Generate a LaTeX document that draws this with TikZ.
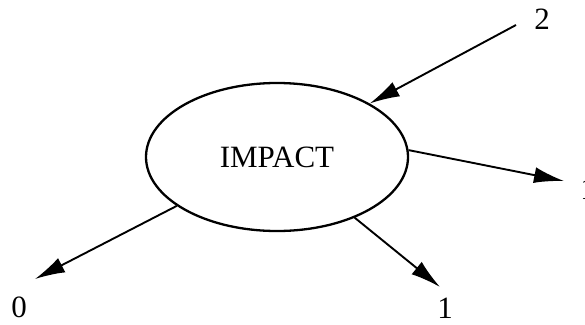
\documentclass[tikz,border=0pt]{standalone}
\usepackage{fontspec}
\setmainfont{Liberation Serif}
\usetikzlibrary{shapes.geometric,arrows.meta}
\begin{document}
\begin{tikzpicture}[x=1pt,y=-1pt,
  bubble/.style={ellipse,draw,line width=2.3pt,minimum width=262pt,minimum height=148pt,inner sep=0pt,font=\fontsize{31}{31}\selectfont},
  lbl/.style={inner sep=0pt,font=\fontsize{31}{31}\selectfont},
  link/.style={line width=1.9pt,-{Latex[length=30pt,width=16pt]}}]
\useasboundingbox (0,0) rectangle (585,324);
\node[bubble] (imp) at (277,157) {IMPACT};
\node[lbl] (n0) at (19,307) {0};
\node[lbl] (n1a) at (445,308) {1};
\node[lbl] (n2) at (542,19) {2};
\node[lbl] (n1b) at (588,189) {1};
\coordinate (c0) at (35,279);
\coordinate (c1a) at (440,287);
\coordinate (c2) at (516,25);
\coordinate (c1b) at (564,181);
\draw[link] (imp.206) -- (c0);
\draw[link] (imp.322) -- (c1a);
\draw[link] (imp.3) -- (c1b);
\draw[link] (c2) -- (imp.30);
\end{tikzpicture}
\end{document}
